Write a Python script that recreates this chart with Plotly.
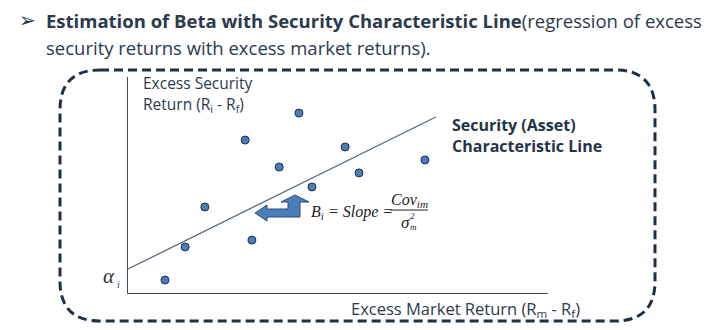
import plotly.graph_objects as go

# Excess market return (x) and excess security return (y) observations
market_excess = [0.88, 1.36, 1.83, 2.79, 2.95, 3.60, 4.07, 4.38, 5.17, 5.50, 7.07]
security_excess = [0.60, 2.13, 3.98, 7.08, 2.45, 5.83, 8.33, 4.91, 6.76, 5.56, 6.16]

# Characteristic line: intercept (alpha) and slope (beta)
alpha = 1.11
beta = 0.96
line_x = [0.0, 7.33]
line_y = [alpha + beta * v for v in line_x]

W, H = 716, 330
L, R, T, B = 128, 548, 77, 293


def px(x):
    return (x - L) / (R - L)


def py(y):
    return (B - y) / (B - T)


TEXT = "#2b3a4c"
DARK = "#1f3044"
SANS = "Open Sans"
SERIF = "Liberation Serif"

fig = go.Figure()

fig.add_trace(go.Scatter(
    x=line_x, y=line_y, mode="lines",
    line=dict(color="#5b6b80", width=1.3),
    hoverinfo="skip", showlegend=False,
))
fig.add_trace(go.Scatter(
    x=market_excess, y=security_excess, mode="markers",
    marker=dict(size=8, color="#4a7ebb", line=dict(color="#1c2e44", width=1)),
    showlegend=False, cliponaxis=False,
))

shapes = []

# Dashed rounded frame around the diagram
x0, x1, y0, y1, r = 60, 655, 70, 321, 40
frame = (
    f"M {px(x0 + r)},{py(y0)} L {px(x1 - r)},{py(y0)} "
    f"Q {px(x1)},{py(y0)} {px(x1)},{py(y0 + r)} "
    f"L {px(x1)},{py(y1 - r)} "
    f"Q {px(x1)},{py(y1)} {px(x1 - r)},{py(y1)} "
    f"L {px(x0 + r)},{py(y1)} "
    f"Q {px(x0)},{py(y1)} {px(x0)},{py(y1 - r)} "
    f"L {px(x0)},{py(y0 + r)} "
    f"Q {px(x0)},{py(y0)} {px(x0 + r)},{py(y0)}"
)
shapes.append(dict(type="path", xref="paper", yref="paper", path=frame,
                   line=dict(color=DARK, width=3, dash="9px,5px")))

# Bent arrow pointing at the line
arrow_pts = [(255, 213), (267, 205), (267, 209), (288, 209), (288, 202),
             (281, 202), (295, 195), (309, 202), (300, 202), (300, 217),
             (267, 217), (267, 221)]
arrow = "M " + " L ".join(f"{px(a)},{py(b)}" for a, b in arrow_pts) + " Z"
shapes.append(dict(type="path", xref="paper", yref="paper", path=arrow,
                   fillcolor="#4a7ebb", line=dict(color="#2a4a75", width=1)))

# Fraction bar
shapes.append(dict(type="line", xref="paper", yref="paper",
                   x0=px(390), x1=px(428), y0=py(210), y1=py(210),
                   line=dict(color="#222222", width=1)))

fig.update_layout(shapes=shapes)


def note(text, x, y, size, color=TEXT, family=SANS, xanchor="left", yanchor="middle"):
    fig.add_annotation(text=text, x=px(x), y=py(y), xref="paper", yref="paper",
                       showarrow=False, xanchor=xanchor, yanchor=yanchor,
                       font=dict(size=size, color=color, family=family))


# Heading
note("➢", 17, 20, 20, color=TEXT, family="DejaVu Sans")
note("<b>Estimation of Beta with Security Characteristic Line</b>(regression of excess",
     44, 20, 18.5)
note("security returns with excess market returns).", 44, 47, 18.5)

# Axis titles
note("Excess Security", 141, 83, 15.5)
note("Return (R<sub>i</sub> - R<sub>f</sub>)", 141, 104, 15.5)
note("Excess Market Return (R<sub>m</sub> - R<sub>f</sub>)", 349, 309, 16.5)

# Line label
note("<b>Security (Asset)</b>", 450, 125, 16, color="#243447")
note("<b>Characteristic Line</b>", 450, 146, 16, color="#243447")

# Intercept label
note("<i>α</i>", 101, 276, 21, color="#333333", family=SERIF)
note("<i>i</i>", 115, 284, 10, color="#333333", family=SERIF)

# Beta formula
note("<i>B<sub>i</sub> = Slope =</i>", 309, 212, 16, color="#222222", family=SERIF)
note("<i>Cov<sub>im</sub></i>", 409, 200, 16, color="#222222", family=SERIF, xanchor="center")
note("<i>σ</i>", 405, 222, 17, color="#222222", family=SERIF, xanchor="center")
note("<i>2</i>", 412, 216, 9, color="#222222", family=SERIF, xanchor="center")
note("<i>m</i>", 413, 227, 9, color="#222222", family=SERIF, xanchor="center")

axis_style = dict(showgrid=False, zeroline=False, showticklabels=False, ticks="",
                  showline=True, linecolor="#3c4b5d", linewidth=1, fixedrange=True)

fig.update_layout(
    width=W, height=H,
    margin=dict(l=L, r=W - R, t=T, b=H - B, pad=0),
    paper_bgcolor="white", plot_bgcolor="white",
    xaxis=dict(range=[0, 10], **axis_style),
    yaxis=dict(range=[0, 10], **axis_style),
    showlegend=False,
)

fig.write_html("out.html")
